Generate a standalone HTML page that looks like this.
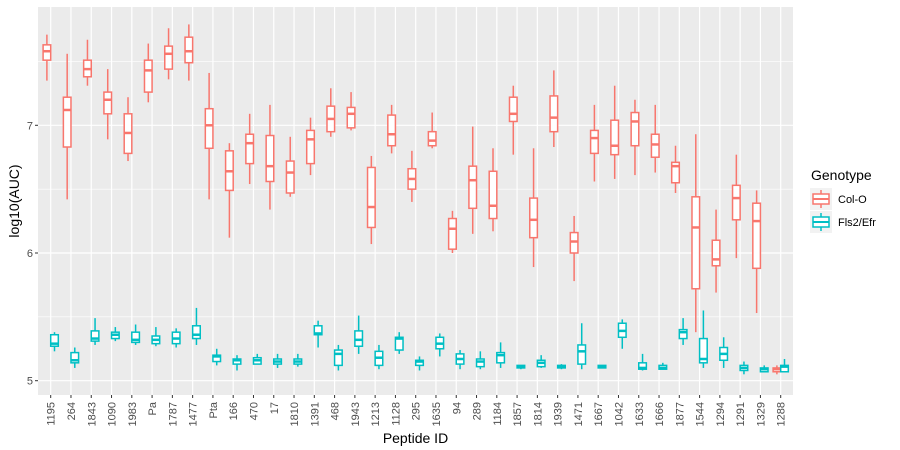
<!DOCTYPE html>
<html><head><meta charset="utf-8"><style>
body{margin:0;background:#fff;}
svg{display:block;font-family:"Liberation Sans",Arial,sans-serif;}
</style></head><body>
<svg id="chart" width="900" height="450"></svg>
<script>
const categories=["1195","264","1843","1090","1983","Pa","1787","1477","Pta","166","470","17","1810","1391","468","1943","1213","1128","295","1635","94","289","1184","1857","1814","1939","1471","1667","1042","1633","1666","1877","1544","1294","1291","1329","1288"];
// [whiskerHigh, q3, median, q1, whiskerLow]
const colO=[[7.71,7.63,7.58,7.51,7.35],[7.56,7.22,7.12,6.83,6.42],[7.67,7.51,7.44,7.38,7.31],[7.44,7.26,7.20,7.09,6.89],[7.22,7.09,6.94,6.78,6.72],[7.64,7.51,7.43,7.26,7.18],[7.76,7.62,7.56,7.44,7.36],[7.79,7.69,7.58,7.49,7.35],[7.41,7.13,7.00,6.82,6.42],[6.86,6.80,6.64,6.49,6.12],[7.09,6.93,6.86,6.70,6.54],[7.16,6.92,6.68,6.56,6.34],[6.91,6.72,6.63,6.47,6.44],[7.06,6.96,6.89,6.70,6.61],[7.29,7.15,7.05,6.95,6.91],[7.26,7.14,7.09,6.98,6.96],[6.76,6.67,6.36,6.20,6.07],[7.16,7.08,6.93,6.84,6.78],[6.80,6.66,6.58,6.50,6.40],[7.10,6.95,6.88,6.84,6.82],[6.33,6.27,6.19,6.03,6.00],[6.99,6.68,6.57,6.35,6.15],[6.82,6.64,6.37,6.27,6.17],[7.31,7.22,7.09,7.03,6.77],[6.82,6.43,6.26,6.12,5.89],[7.43,7.23,7.06,6.95,6.83],[6.29,6.16,6.09,6.00,5.78],[7.16,6.96,6.90,6.78,6.56],[7.31,7.04,6.84,6.77,6.58],[7.20,7.10,7.03,6.84,6.61],[7.16,6.93,6.85,6.75,6.63],[6.84,6.71,6.68,6.55,6.47],[6.93,6.44,6.20,5.72,5.38],[6.34,6.10,5.95,5.90,5.69],[6.77,6.53,6.43,6.26,5.96],[6.49,6.39,6.25,5.88,5.53],[5.12,5.10,5.09,5.07,5.05]];
const fls2Efr=[[5.38,5.36,5.29,5.27,5.23],[5.26,5.22,5.16,5.14,5.10],[5.49,5.39,5.33,5.31,5.28],[5.42,5.38,5.36,5.33,5.31],[5.44,5.38,5.32,5.30,5.28],[5.42,5.35,5.32,5.29,5.27],[5.41,5.38,5.33,5.29,5.26],[5.57,5.43,5.36,5.33,5.28],[5.25,5.20,5.19,5.15,5.12],[5.20,5.17,5.16,5.13,5.08],[5.21,5.18,5.16,5.13,5.13],[5.21,5.17,5.15,5.13,5.10],[5.21,5.17,5.15,5.13,5.11],[5.47,5.43,5.37,5.36,5.26],[5.28,5.24,5.21,5.12,5.08],[5.51,5.39,5.32,5.27,5.21],[5.28,5.23,5.18,5.12,5.09],[5.38,5.34,5.33,5.24,5.21],[5.19,5.16,5.15,5.12,5.08],[5.37,5.34,5.29,5.25,5.19],[5.24,5.21,5.17,5.13,5.09],[5.23,5.17,5.15,5.11,5.09],[5.30,5.22,5.20,5.14,5.10],[5.12,5.12,5.11,5.10,5.09],[5.20,5.16,5.14,5.11,5.10],[5.13,5.12,5.11,5.10,5.09],[5.45,5.28,5.23,5.13,5.09],[5.12,5.12,5.11,5.10,5.10],[5.48,5.45,5.39,5.34,5.25],[5.21,5.14,5.10,5.09,5.08],[5.14,5.12,5.10,5.09,5.09],[5.49,5.40,5.38,5.33,5.28],[5.55,5.33,5.17,5.14,5.10],[5.34,5.26,5.21,5.16,5.10],[5.15,5.12,5.10,5.08,5.05],[5.12,5.10,5.09,5.07,5.07],[5.17,5.12,5.11,5.07,5.07]];
const yTicks=[5,6,7];
const yMinor=[5.5,6.5,7.5];

const NS="http://www.w3.org/2000/svg";
const svg=document.getElementById('chart');
const P={l:38,r:793,t:7,b:395};
const step=(780.7-50.7)/36;
function xScale(i){return 50.7+i*step;}
function yScale(v){return 380.7-(v-5)*127.7;}
function mk(tag,attrs,parent){const e=document.createElementNS(NS,tag);for(const k in attrs)e.setAttribute(k,attrs[k]);(parent||svg).appendChild(e);return e;}

const panel=mk('rect',{x:P.l,y:P.t,width:P.r-P.l,height:P.b-P.t,fill:'#EBEBEB'});


yMinor.forEach(v=>{const l=mk('line',{x1:P.l,x2:P.r,y1:yScale(v),y2:yScale(v),stroke:'#fff','stroke-width':0.6});

});
yTicks.forEach(v=>{const l=mk('line',{x1:P.l,x2:P.r,y1:yScale(v),y2:yScale(v),stroke:'#fff','stroke-width':1.2});


const tk=mk('line',{x1:P.l-3,x2:P.l,y1:yScale(v),y2:yScale(v),stroke:'#333','stroke-width':1});


const t=mk('text',{x:P.l-5,y:yScale(v)+4,'text-anchor':'end','font-size':11,fill:'#4D4D4D'});t.textContent=v;

});
categories.forEach((c,i)=>{const x=xScale(i);
const l=mk('line',{x1:x,x2:x,y1:P.t,y2:P.b,stroke:'#fff','stroke-width':1.2});


const tk=mk('line',{x1:x,x2:x,y1:P.b,y2:P.b+3,stroke:'#333','stroke-width':1});


const t=mk('text',{x:0,y:0,'text-anchor':'end','font-size':11,fill:'#4D4D4D',transform:`translate(${x+4},${P.b+7}) rotate(-90)`});t.textContent=c;

});

const bw=step*0.375;
function drawBox(d,i,off,color,name){const cx=xScale(i)+off;
const g=mk('g',{});


mk('line',{x1:cx,x2:cx,y1:yScale(d[0]),y2:yScale(d[1]),stroke:color,'stroke-width':1.5},g);
mk('line',{x1:cx,x2:cx,y1:yScale(d[3]),y2:yScale(d[4]),stroke:color,'stroke-width':1.5},g);
mk('rect',{x:cx-bw/2,y:yScale(d[1]),width:bw,height:Math.max(0.5,yScale(d[3])-yScale(d[1])),fill:'#fff',stroke:color,'stroke-width':1.5},g);
mk('line',{x1:cx-bw/2,x2:cx+bw/2,y1:yScale(d[2]),y2:yScale(d[2]),stroke:color,'stroke-width':2.5},g);}
colO.forEach((d,i)=>drawBox(d,i,-bw/2,'#F8766D','box-col-o'));
fls2Efr.forEach((d,i)=>drawBox(d,i,bw/2,'#00BFC4','box-fls2-efr'));

const yt=mk('text',{x:0,y:0,'text-anchor':'middle','font-size':14,fill:'#000',transform:`translate(19,${(P.t+P.b)/2}) rotate(-90)`});yt.textContent='log10(AUC)';


const xt=mk('text',{x:(P.l+P.r)/2,y:443,'text-anchor':'middle','font-size':14,fill:'#000'});xt.textContent='Peptide ID';



const lt=mk('text',{x:811,y:180,'font-size':14,fill:'#000'});lt.textContent='Genotype';


[['Col-O','#F8766D',188],['Fls2/Efr','#00BFC4',211]].forEach(([lab,col,y])=>{
const g=mk('g',{});


mk('rect',{x:810,y:y,width:22,height:22,fill:'#F2F2F2'},g);
mk('line',{x1:821,x2:821,y1:y+2,y2:y+20,stroke:col,'stroke-width':1.5},g);
mk('rect',{x:813,y:y+6,width:16,height:10,fill:'#fff',stroke:col,'stroke-width':1.5},g);
mk('line',{x1:813,x2:829,y1:y+11,y2:y+11,stroke:col,'stroke-width':2},g);
const t=mk('text',{x:838,y:y+15,'font-size':11,fill:'#000'},g);t.textContent=lab;});
</script>
</body></html>
